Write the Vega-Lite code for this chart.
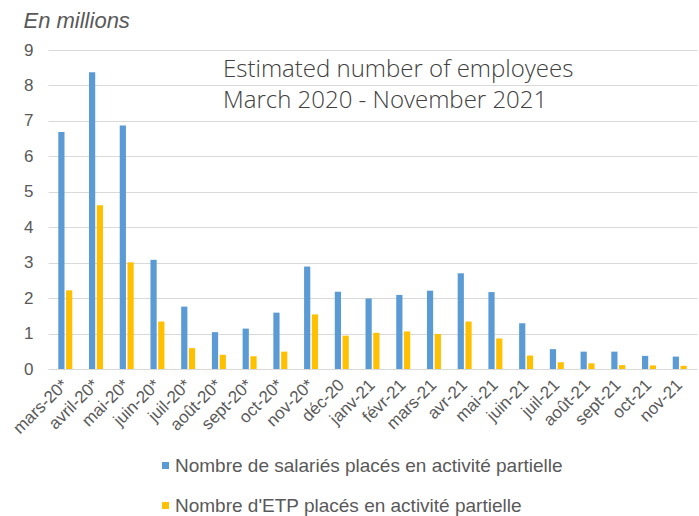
{
  "$schema": "https://vega.github.io/schema/vega-lite/v6.json",
  "width": 649,
  "height": 319,
  "autosize": {"type": "none"},
  "padding": {"left": 48, "top": 50, "right": 2, "bottom": 147},
  "background": "white",
  "title": {
    "text": ["Estimated number of employees", "March 2020 - November 2021"],
    "anchor": "start",
    "frame": "group",
    "orient": "top",
    "offset": -57,
    "dx": 175,
    "dy": 47,
    "baseline": "top",
    "lineHeight": 31,
    "font": "Open Sans",
    "fontSize": 24,
    "fontWeight": 300,
    "color": "#404040"
  },
  "config": {
    "view": {"stroke": null},
    "font": "Liberation Sans"
  },
  "data": {
    "values": [
      {"month": "mars-20*", "series": "Nombre de salariés placés en activité partielle", "value": 6.69},
      {"month": "avril-20*", "series": "Nombre de salariés placés en activité partielle", "value": 8.37},
      {"month": "mai-20*", "series": "Nombre de salariés placés en activité partielle", "value": 6.87},
      {"month": "juin-20*", "series": "Nombre de salariés placés en activité partielle", "value": 3.08},
      {"month": "juil-20*", "series": "Nombre de salariés placés en activité partielle", "value": 1.76},
      {"month": "août-20*", "series": "Nombre de salariés placés en activité partielle", "value": 1.04},
      {"month": "sept-20*", "series": "Nombre de salariés placés en activité partielle", "value": 1.14},
      {"month": "oct-20*", "series": "Nombre de salariés placés en activité partielle", "value": 1.59},
      {"month": "nov-20*", "series": "Nombre de salariés placés en activité partielle", "value": 2.89},
      {"month": "déc-20", "series": "Nombre de salariés placés en activité partielle", "value": 2.18},
      {"month": "janv-21", "series": "Nombre de salariés placés en activité partielle", "value": 1.99},
      {"month": "févr-21", "series": "Nombre de salariés placés en activité partielle", "value": 2.09},
      {"month": "mars-21", "series": "Nombre de salariés placés en activité partielle", "value": 2.21},
      {"month": "avr-21", "series": "Nombre de salariés placés en activité partielle", "value": 2.70},
      {"month": "mai-21", "series": "Nombre de salariés placés en activité partielle", "value": 2.17},
      {"month": "juin-21", "series": "Nombre de salariés placés en activité partielle", "value": 1.29},
      {"month": "juil-21", "series": "Nombre de salariés placés en activité partielle", "value": 0.56},
      {"month": "août-21", "series": "Nombre de salariés placés en activité partielle", "value": 0.49},
      {"month": "sept-21", "series": "Nombre de salariés placés en activité partielle", "value": 0.49},
      {"month": "oct-21", "series": "Nombre de salariés placés en activité partielle", "value": 0.37},
      {"month": "nov-21", "series": "Nombre de salariés placés en activité partielle", "value": 0.35},
      {"month": "mars-20*", "series": "Nombre d'ETP placés en activité partielle", "value": 2.22},
      {"month": "avril-20*", "series": "Nombre d'ETP placés en activité partielle", "value": 4.62},
      {"month": "mai-20*", "series": "Nombre d'ETP placés en activité partielle", "value": 3.01},
      {"month": "juin-20*", "series": "Nombre d'ETP placés en activité partielle", "value": 1.34},
      {"month": "juil-20*", "series": "Nombre d'ETP placés en activité partielle", "value": 0.59},
      {"month": "août-20*", "series": "Nombre d'ETP placés en activité partielle", "value": 0.40},
      {"month": "sept-20*", "series": "Nombre d'ETP placés en activité partielle", "value": 0.36},
      {"month": "oct-20*", "series": "Nombre d'ETP placés en activité partielle", "value": 0.49},
      {"month": "nov-20*", "series": "Nombre d'ETP placés en activité partielle", "value": 1.54},
      {"month": "déc-20", "series": "Nombre d'ETP placés en activité partielle", "value": 0.94},
      {"month": "janv-21", "series": "Nombre d'ETP placés en activité partielle", "value": 1.02},
      {"month": "févr-21", "series": "Nombre d'ETP placés en activité partielle", "value": 1.06},
      {"month": "mars-21", "series": "Nombre d'ETP placés en activité partielle", "value": 0.99},
      {"month": "avr-21", "series": "Nombre d'ETP placés en activité partielle", "value": 1.34},
      {"month": "mai-21", "series": "Nombre d'ETP placés en activité partielle", "value": 0.86},
      {"month": "juin-21", "series": "Nombre d'ETP placés en activité partielle", "value": 0.38},
      {"month": "juil-21", "series": "Nombre d'ETP placés en activité partielle", "value": 0.19},
      {"month": "août-21", "series": "Nombre d'ETP placés en activité partielle", "value": 0.16},
      {"month": "sept-21", "series": "Nombre d'ETP placés en activité partielle", "value": 0.11},
      {"month": "oct-21", "series": "Nombre d'ETP placés en activité partielle", "value": 0.10},
      {"month": "nov-21", "series": "Nombre d'ETP placés en activité partielle", "value": 0.09}
    ]
  },
  "mark": {"type": "bar"},
  "encoding": {
    "x": {
      "field": "month",
      "type": "nominal",
      "sort": null,
      "scale": {"paddingInner": 0.545, "paddingOuter": 0.335},
      "axis": {
        "title": null,
        "labelAngle": -45,
        "labelAlign": "right",
        "labelBaseline": "middle",
        "labelFontSize": 17,
        "labelColor": "#595959",
        "labelPadding": 13,
        "labelOffset": 0,
        "ticks": false,
        "domain": false,
        "grid": false
      }
    },
    "xOffset": {
      "field": "series",
      "type": "nominal",
      "scale": {
        "domain": ["Nombre de salariés placés en activité partielle", "Nombre d'ETP placés en activité partielle"],
        "paddingInner": 0.2
      }
    },
    "y": {
      "field": "value",
      "type": "quantitative",
      "scale": {"domain": [0, 9], "nice": false},
      "axis": {
        "title": "En millions",
        "titleAngle": 0,
        "titleX": -25,
        "titleY": -23,
        "titleAlign": "left",
        "titleBaseline": "alphabetic",
        "titleFontStyle": "italic",
        "titleFontWeight": "normal",
        "titleFontSize": 22,
        "titleColor": "#595959",
        "values": [0, 1, 2, 3, 4, 5, 6, 7, 8, 9],
        "labelFontSize": 17,
        "labelColor": "#595959",
        "labelPadding": 15,
        "ticks": false,
        "domain": false,
        "gridColor": "#d9d9d9",
        "gridWidth": 1.2
      }
    },
    "color": {
      "field": "series",
      "type": "nominal",
      "scale": {
        "domain": ["Nombre de salariés placés en activité partielle", "Nombre d'ETP placés en activité partielle"],
        "range": ["#5B9BD5", "#FFC000"]
      },
      "legend": {
        "title": null,
        "orient": "none",
        "legendX": 108,
        "legendY": 406,
        "direction": "vertical",
        "symbolType": "square",
        "symbolSize": 49,
        "symbolStrokeWidth": 0,
        "labelFontSize": 19,
        "labelColor": "#595959",
        "labelOffset": 0,
        "rowPadding": 20,
        "labelLimit": 600
      }
    }
  }
}
